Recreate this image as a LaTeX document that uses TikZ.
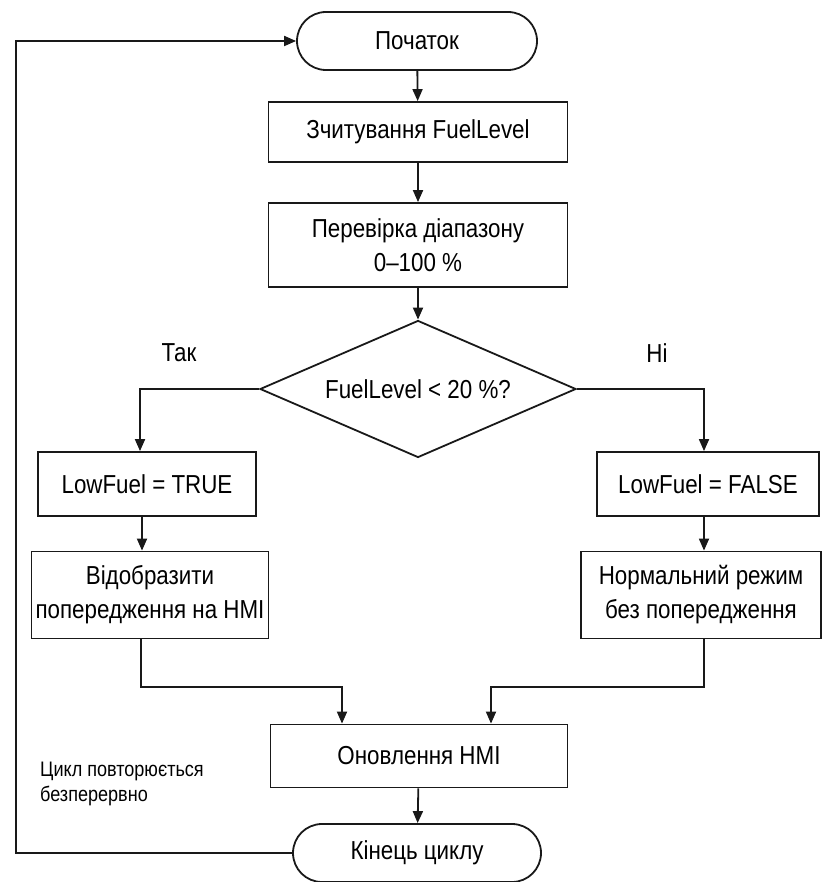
\documentclass[tikz,border=0pt]{standalone}
\usepackage{fontspec}
\setmainfont{Liberation Sans}[FakeStretch=0.86]
\usetikzlibrary{arrows.meta,shapes.misc,shapes.geometric}
\begin{document}
\begin{tikzpicture}[x=1pt,y=-1pt,
  every node/.style={font=\fontsize{26}{34}\selectfont, align=center, inner sep=0pt},
  arr/.style={line width=1.8pt, draw=black!90, -{Triangle[length=12pt,width=10pt]}},
  procbox/.style={draw=black!90, line width=1.8pt, rectangle},
  termbox/.style={draw=black!90, line width=1.8pt, rounded rectangle},
  decbox/.style={draw=black!90, line width=1.8pt, diamond, aspect=2.3},
  lbl/.style={font=\fontsize{26}{34}\selectfont},
  note/.style={font=\fontsize{21}{25}\selectfont, align=left}]
\useasboundingbox (0,0) rectangle (824,882);
\node[termbox, minimum width=240pt, minimum height=58pt] (start) at (417,41) {Початок};
\node[procbox, minimum width=299pt, minimum height=60pt] (read) at (418,132) {Зчитування FuelLevel};
\node[procbox, minimum width=299pt, minimum height=84pt] (range) at (418,245) {Перевірка діапазону\\0–100 \%};
\node[decbox, minimum width=316pt, minimum height=137pt] (dec) at (418,389) {FuelLevel < 20 \%?};
\node[procbox, minimum width=218pt, minimum height=64pt] (true) at (147,484) {LowFuel = TRUE};
\node[procbox, minimum width=222pt, minimum height=64pt] (false) at (708,484) {LowFuel = FALSE};
\node[procbox, minimum width=237pt, minimum height=87pt] (warn) at (150,595) {Відобразити\\попередження на HMI};
\node[procbox, minimum width=240pt, minimum height=87pt] (normal) at (701,595) {Нормальний режим\\без попередження};
\node[procbox, minimum width=297pt, minimum height=63pt] (hmi) at (419,756) {Оновлення HMI};
\node[termbox, minimum width=248pt, minimum height=58pt] (end) at (417,853) {Кінець циклу};
\node[lbl] (yes) at (179,353) {Так};
\node[lbl] (no) at (657,353) {Ні};
\node[note, anchor=west] (loopnote) at (40,784) {Цикл повторюється\\безперервно};
\coordinate (jl) at (342,687);
\coordinate (jr) at (491,687);
\coordinate (lb) at (16,853);
\coordinate (lt) at (16,41);
\draw[arr] (start) -- (read);
\draw[arr] (read) -- (range);
\draw[arr] (range) -- (dec);
\draw[arr] (dec.west) -| ([xshift=-7pt]true.north);
\draw[arr] (dec.east) -| ([xshift=-4pt]false.north);
\draw[arr] ([xshift=-5pt]true.south) -- ([xshift=-8pt]warn.north);
\draw[arr] ([xshift=-4pt]false.south) -- ([xshift=3pt]normal.north);
\draw[arr] ([xshift=-9pt]warn.south) |- (jl) -- (jl |- hmi.north);
\draw[arr] ([xshift=3pt]normal.south) |- (jr) -- (jr |- hmi.north);
\draw[arr] (hmi) -- (end);
\draw[arr] (end.west) -- (lb) -- (lt) -- (start.west);
\end{tikzpicture}
\end{document}
